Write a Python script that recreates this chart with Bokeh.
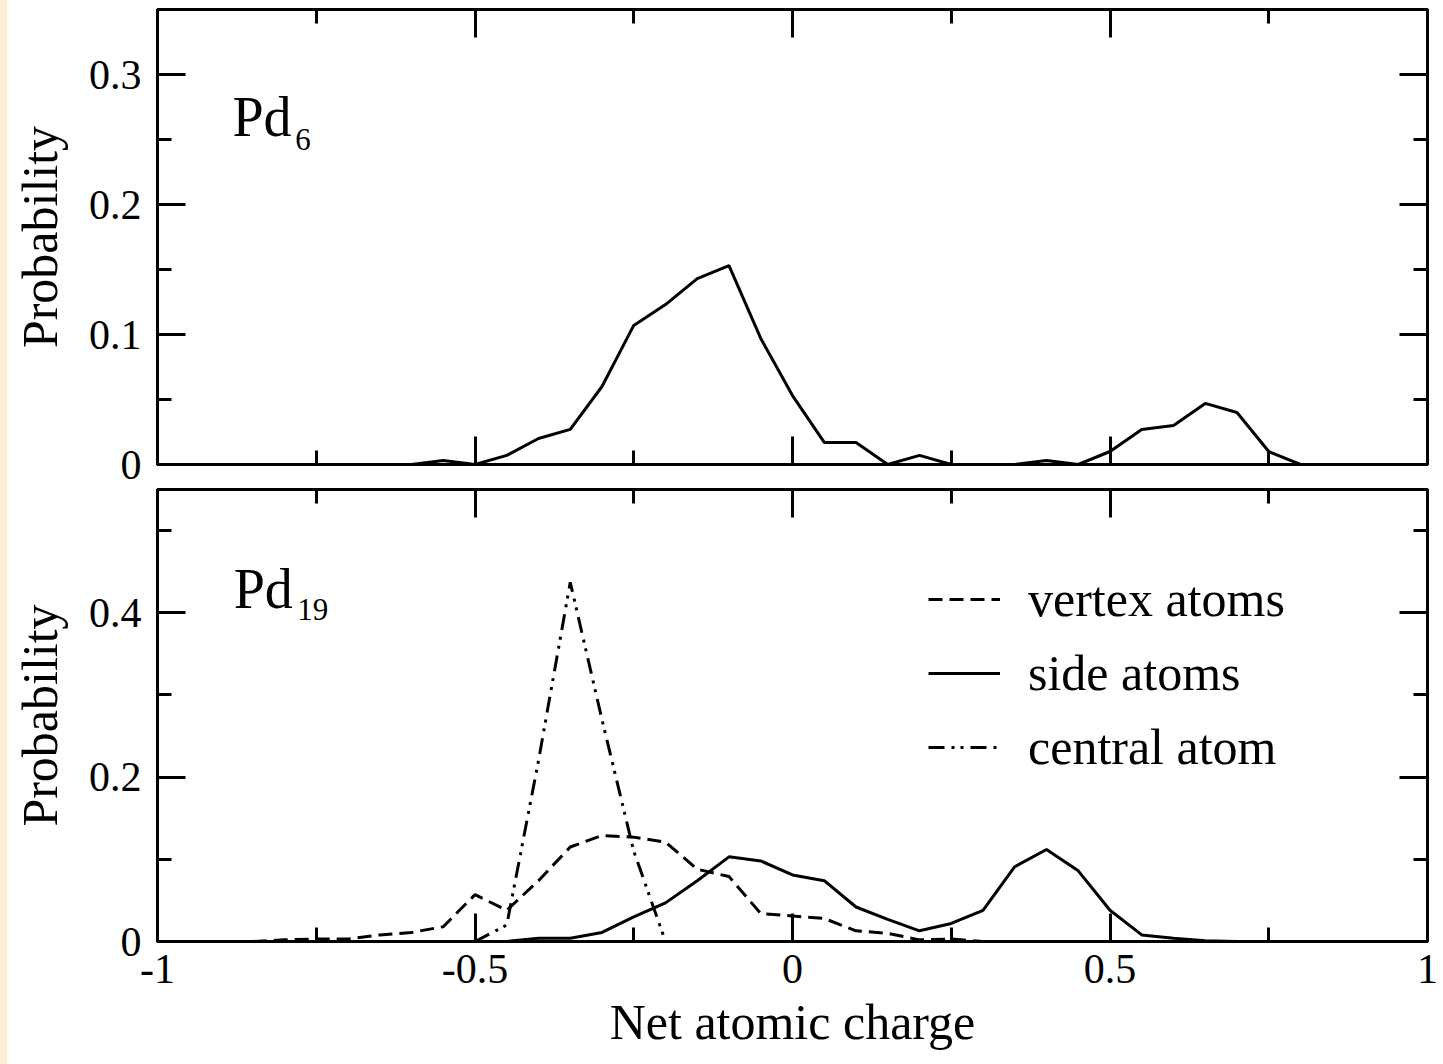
from bokeh.plotting import figure
from bokeh.models import (Range1d, FixedTicker, LinearAxis, CustomJSTickFormatter,
                          Legend, LegendItem, Label, Div)
from bokeh.layouts import column, row
from bokeh.embed import file_html
from bokeh.resources import INLINE

# ---------------- data ----------------
charge_pd6 = [-0.6, -0.55, -0.5, -0.45, -0.4, -0.35, -0.3, -0.25, -0.2, -0.15, -0.1, -0.05,
              0.0, 0.05, 0.1, 0.15, 0.2, 0.25, 0.3, 0.35, 0.4, 0.45, 0.5, 0.55, 0.6, 0.65,
              0.7, 0.75, 0.8]
side_pd6 = [0.0, 0.003, 0.0, 0.007, 0.020, 0.027, 0.060, 0.107, 0.123, 0.143, 0.153, 0.097,
            0.053, 0.017, 0.017, 0.0, 0.007, 0.0, 0.0, 0.0, 0.003, 0.0, 0.010, 0.027, 0.030,
            0.047, 0.040, 0.010, 0.0]

charge_pd19_vertex = [-0.85, -0.8, -0.75, -0.7, -0.65, -0.6, -0.55, -0.5, -0.45, -0.4, -0.35,
                      -0.3, -0.25, -0.2, -0.15, -0.1, -0.05, 0.0, 0.05, 0.1, 0.15, 0.2, 0.25, 0.3]
vertex_pd19 = [0.0, 0.002, 0.003, 0.003, 0.008, 0.011, 0.018, 0.057, 0.038, 0.074, 0.115,
               0.129, 0.127, 0.121, 0.088, 0.079, 0.034, 0.031, 0.028, 0.013, 0.010, 0.002,
               0.003, 0.0]

charge_pd19_side = [-0.5, -0.45, -0.4, -0.35, -0.3, -0.25, -0.2, -0.15, -0.1, -0.05, 0.0, 0.05,
                    0.1, 0.15, 0.2, 0.25, 0.3, 0.35, 0.4, 0.45, 0.5, 0.55, 0.6, 0.65, 0.7]
side_pd19 = [0.0, 0.0, 0.004, 0.004, 0.011, 0.030, 0.047, 0.074, 0.103, 0.098, 0.081, 0.074,
             0.042, 0.027, 0.013, 0.022, 0.038, 0.091, 0.112, 0.086, 0.038, 0.008, 0.004,
             0.001, 0.0]

charge_pd19_central = [-0.5, -0.45, -0.4, -0.35, -0.3, -0.25, -0.2]
central_pd19 = [0.0, 0.02, 0.22, 0.437, 0.27, 0.11, 0.0]

x_ticks = [-1, -0.5, 0, 0.5, 1]
x_minor = [-0.75, -0.25, 0.25, 0.75]
y_ticks_top = [0, 0.1, 0.2, 0.3]
y_minor_top = [0.05, 0.15, 0.25]
y_ticks_bot = [0, 0.2, 0.4]
y_minor_bot = [0.1, 0.3, 0.5]

legend_labels = ["vertex atoms", "side atoms", "central atom"]

# ---------------- style ----------------
FONT = "Liberation Serif"
STRIP = 7
W = 1443 - STRIP
LEFT = 157 - STRIP
RIGHT = 16

label_fmt = CustomJSTickFormatter(code="""
var s = tick.toFixed(1);
if (s.endsWith('.0')) { s = s.slice(0, -2); }
if (s === '-0') { s = '0'; }
return s;
""")
empty_fmt = CustomJSTickFormatter(code="return '';")


def style_axis(ax, show_labels):
    ax.axis_line_width = 3
    ax.axis_line_color = "black"
    ax.major_tick_in = 28
    ax.major_tick_out = 0
    ax.minor_tick_in = 14
    ax.minor_tick_out = 0
    ax.major_tick_line_width = 3
    ax.minor_tick_line_width = 3
    ax.major_tick_line_color = "black"
    ax.minor_tick_line_color = "black"
    ax.axis_label_text_font = FONT
    ax.axis_label_text_font_style = "normal"
    ax.axis_label_text_font_size = "50px"
    ax.axis_label_text_color = "black"
    if show_labels:
        ax.formatter = label_fmt
        ax.major_label_text_font = FONT
        ax.major_label_text_font_size = "42px"
        ax.major_label_text_color = "black"
    else:
        ax.formatter = empty_fmt
        ax.major_label_text_font_size = "0px"
        ax.major_label_standoff = 0


def make_fig(height, top, bottom, ymax, yt, ym, xlabels):
    p = figure(width=W, height=height, x_range=Range1d(-1, 1), y_range=Range1d(0, ymax),
               output_backend="svg", toolbar_location=None,
               x_axis_location=None, y_axis_location=None,
               min_border_left=LEFT, min_border_right=RIGHT,
               min_border_top=top, min_border_bottom=bottom)
    p.grid.visible = False
    p.outline_line_color = "black"
    p.outline_line_width = 3
    p.background_fill_color = "white"
    p.border_fill_color = "white"

    xt = FixedTicker(ticks=x_ticks, minor_ticks=x_minor)
    ytk = FixedTicker(ticks=yt, minor_ticks=ym)

    left = LinearAxis(ticker=ytk, axis_label="Probability")
    style_axis(left, True)
    left.major_label_standoff = 16
    left.axis_label_standoff = 18
    p.add_layout(left, "left")

    right = LinearAxis(ticker=ytk)
    style_axis(right, False)
    p.add_layout(right, "right")

    above = LinearAxis(ticker=xt)
    style_axis(above, False)
    p.add_layout(above, "above")

    below = LinearAxis(ticker=xt)
    if xlabels:
        below.axis_label = "Net atomic charge"
    style_axis(below, xlabels)
    if xlabels:
        below.major_label_standoff = 13
        below.axis_label_standoff = 8
    p.add_layout(below, "below")
    return p


# ---------------- top panel: Pd6 ----------------
p1 = make_fig(488, 9, 24, 0.35, y_ticks_top, y_minor_top, False)
p1.line(charge_pd6, side_pd6, line_color="black", line_width=3)
p1.add_layout(Label(x=-0.882, y=0.267, text="Pd", text_font=FONT, text_font_size="56px",
                    text_color="black", text_baseline="alphabetic", text_align="left"))
p1.add_layout(Label(x=-0.783, y=0.250, text="6", text_font=FONT, text_font_size="31px",
                    text_color="black", text_baseline="alphabetic", text_align="left"))

# ---------------- bottom panel: Pd19 ----------------
p2 = make_fig(576, 1, 123, 0.55, y_ticks_bot, y_minor_bot, True)
r_v = p2.line(charge_pd19_vertex, vertex_pd19, line_color="black", line_width=3,
              line_dash="14 7")
r_s = p2.line(charge_pd19_side, side_pd19, line_color="black", line_width=3)
r_c = p2.line(charge_pd19_central, central_pd19, line_color="black", line_width=3,
              line_dash="16 7 3 6 3 7")
p2.add_layout(Label(x=-0.88, y=0.429, text="Pd", text_font=FONT, text_font_size="56px",
                    text_color="black", text_baseline="alphabetic", text_align="left"))
p2.add_layout(Label(x=-0.780, y=0.404, text="19", text_font=FONT, text_font_size="31px",
                    text_color="black", text_baseline="alphabetic", text_align="left"))

legend = Legend(items=[LegendItem(label=legend_labels[0], renderers=[r_v]),
                       LegendItem(label=legend_labels[1], renderers=[r_s]),
                       LegendItem(label=legend_labels[2], renderers=[r_c])],
                location=(771, 165))
legend.border_line_color = None
legend.background_fill_alpha = 0
legend.glyph_width = 72
legend.glyph_height = 20
legend.label_standoff = 28
legend.spacing = 16
legend.padding = 0
legend.margin = 0
legend.label_text_font = FONT
legend.label_text_font_size = "50px"
legend.label_text_color = "black"
p2.add_layout(legend)

strip = Div(text="", width=STRIP, height=1064, margin=0,
            styles={"background-color": "#fcecd2"})
layout = row(strip, column(p1, p2, spacing=0), spacing=0)

open("out.html", "w").write(file_html(layout, INLINE))
